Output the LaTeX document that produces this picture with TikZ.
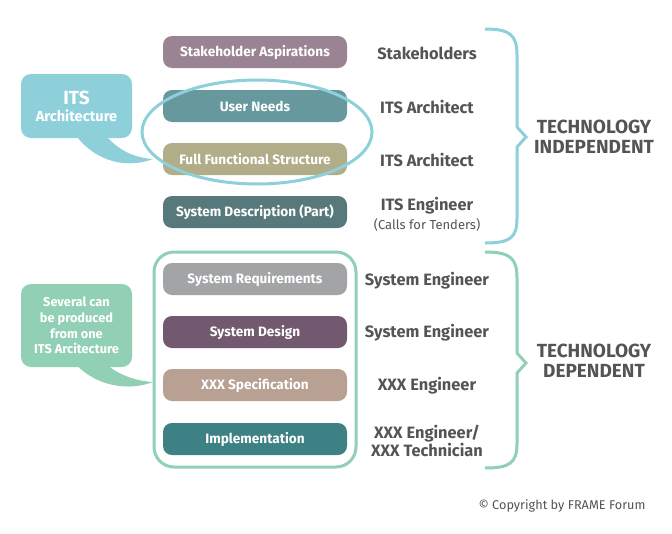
\documentclass[tikz,border=0pt]{standalone}
\usepackage{fontspec}
\setmainfont{Fira Sans}
\definecolor{itsblue}{HTML}{8ED0DA}
\definecolor{sevgreen}{HTML}{91D0B5}
\definecolor{labgray}{HTML}{545454}
\definecolor{cStake}{HTML}{9A8392}
\definecolor{cUser}{HTML}{67989E}
\definecolor{cFull}{HTML}{B0AD88}
\definecolor{cDesc}{HTML}{58797C}
\definecolor{cReq}{HTML}{A3A4A6}
\definecolor{cDes}{HTML}{72596F}
\definecolor{cSpec}{HTML}{B8A092}
\definecolor{cImpl}{HTML}{3E8185}
\tikzset{
  stagebox/.style={rounded corners=9pt, minimum width=184pt, minimum height=32pt,
    text=white, font=\bfseries\fontsize{13.6}{15}\selectfont, inner sep=0pt},
  role/.style={text=labgray, font=\bfseries\fontsize{16.4}{18}\selectfont, align=center, inner sep=0pt},
  techlabel/.style={text=labgray, font=\bfseries\fontsize{19}{20}\selectfont, align=center, inner sep=0pt},
  callout/.style={rounded corners=10pt, text=white, align=center, inner sep=0pt},
}
\begin{document}
\begin{tikzpicture}[x=1pt,y=-1pt]
    \useasboundingbox (0,0) rectangle (672,533);

    % these are the callouts on the left
    \fill[itsblue] (72,130) .. controls (95,165) and (130,168) .. (153,159)
        .. controls (135,158) and (115,150) .. (102,130) -- cycle;
    \node[callout, fill=itsblue, minimum width=111pt, minimum height=64pt] (itsarch) at (76.5,106)
        {{\bfseries\fontsize{19}{18}\selectfont ITS}\\[4pt]{\bfseries\fontsize{14.6}{16}\selectfont Architecture}};
    \fill[sevgreen] (72,360) .. controls (95,388) and (130,391) .. (153,382)
        .. controls (135,381) and (115,374) .. (102,360) -- cycle;
    \node[callout, fill=sevgreen, minimum width=111pt, minimum height=83pt,
        font=\bfseries\fontsize{12.8}{15.7}\selectfont] (several) at (76.5,325.5)
        {Several can\\be produced\\from one\\ITS Arcitecture};

    % these are the stages
    \node[stagebox, fill=cStake] (stake) at (255,52) {Stakeholder Aspirations};
    \node[stagebox, fill=cUser] (user) at (255,106) {User Needs};
    \node[stagebox, fill=cFull] (full) at (255,159) {Full Functional Structure};
    \node[stagebox, fill=cDesc] (desc) at (255,212) {System Description (Part)};
    \node[stagebox, fill=cReq] (req) at (255,279) {System Requirements};
    \node[stagebox, fill=cDes] (design) at (255,332) {System Design};
    \node[stagebox, fill=cSpec] (spec) at (255,385) {XXX Specification};
    \node[stagebox, fill=cImpl] (impl) at (255,439) {Implementation};

    % ellipse and frame
    \draw[itsblue, line width=3pt] (257,132) ellipse [x radius=115pt, y radius=52pt];
    \draw[sevgreen, line width=3pt, rounded corners=20pt] (154,252) rectangle (356,467);

    % these are the roles
    \node[role] (rStake) at (427,53) {Stakeholders};
    \node[role] (rUser) at (427,107) {ITS Architect};
    \node[role] (rFull) at (427,160) {ITS Architect};
    \node[role] (rDesc) at (427,214) {ITS Engineer\\[1pt]{\mdseries\fontsize{13}{14}\selectfont (Calls for Tenders)}};
    \node[role] (rReq) at (427,281) {System Engineer};
    \node[role] (rDes) at (427,333) {System Engineer};
    \node[role] (rSpec) at (427,386) {XXX Engineer};
    \node[role] (rImpl) at (427,441) {XXX Engineer/\\XXX Technician};

    % braces
    \draw[itsblue, line width=3pt] (485,29) .. controls (510,29) and (517,35) .. (517,55)
        -- (517,127) -- (526,137) -- (517,147) -- (517,218)
        .. controls (517,238) and (510,243) .. (485,243);
    \draw[sevgreen, line width=3pt] (485,252) .. controls (510,252) and (517,258) .. (517,278)
        -- (517,353) -- (526,363) -- (517,373) -- (517,443)
        .. controls (517,463) and (510,468) .. (485,468);
    \node[techlabel] (indep) at (594,137) {TECHNOLOGY\\INDEPENDENT};
    \node[techlabel] (dep) at (594,361) {TECHNOLOGY\\DEPENDENT};

    \node[text=labgray, font=\fontsize{12.7}{14}\selectfont, inner sep=0pt] (copy) at (562,506)
        {\textcopyright\ Copyright by FRAME Forum};

\end{tikzpicture}
\end{document}
